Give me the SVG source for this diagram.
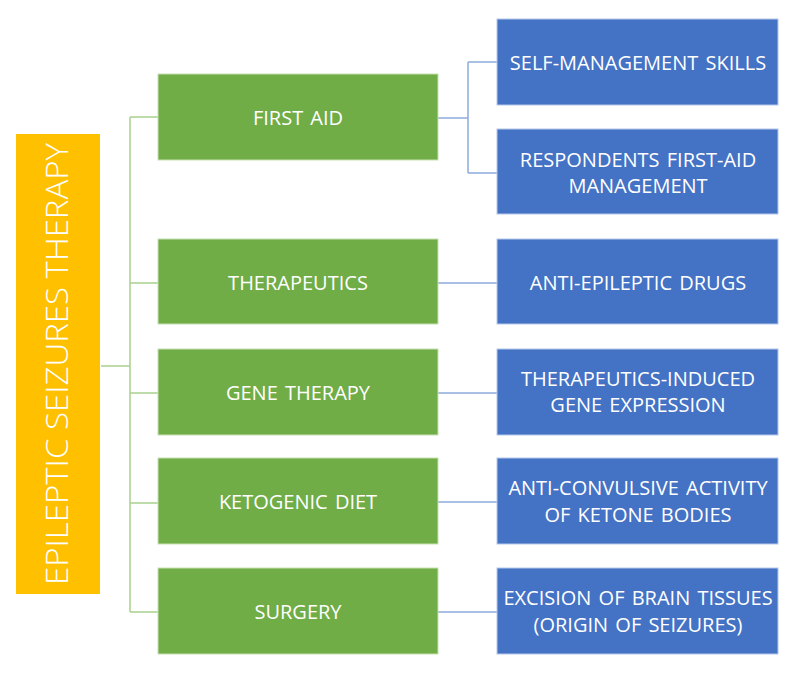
<svg xmlns="http://www.w3.org/2000/svg" width="800" height="680" viewBox="0 0 800 680">
<style>
.g{fill:#70ad47;stroke:#c5e0b4;stroke-width:1}
.b{fill:#4472c4;stroke:#b4c7e7;stroke-width:1}
.t{font-family:"Open Sans","Noto Sans","Liberation Sans",sans-serif;font-size:20px;fill:#ffffff;text-anchor:middle;word-spacing:2px}
.gl{stroke:#a9d18e;stroke-width:1.5;fill:none}
.bl{stroke:#8faadc;stroke-width:1.5;fill:none}
</style>
<rect width="800" height="680" fill="#ffffff"/>
<g id="connectors">
<path class="gl" d="M101 366H130M130 117V612M130 117H158M130 283H158M130 393H158M130 503H158M130 612H158"/>
<path class="bl" d="M438 118H468M468 62V173M468 62H497M468 173H497M438 283H497M438 393H497M438 502H497M438 612H497"/>
</g>
<g id="root">
<rect x="16" y="134" width="84" height="460" fill="#ffc000"/>
<text transform="translate(68,364) rotate(-90)" font-family="'Open Sans','Noto Sans','Liberation Sans',sans-serif" font-weight="300" font-size="31" fill="#ffffff" text-anchor="middle" textLength="442" lengthAdjust="spacingAndGlyphs">EPILEPTIC SEIZURES THERAPY</text>
</g>
<g id="first-aid"><rect class="g" x="158" y="74" width="280" height="86"/><text class="t" x="298" y="125">FIRST AID</text></g>
<g id="therapeutics"><rect class="g" x="158" y="239" width="280" height="85"/><text class="t" x="298" y="290">THERAPEUTICS</text></g>
<g id="gene-therapy"><rect class="g" x="158" y="349" width="280" height="86"/><text class="t" x="298" y="400">GENE THERAPY</text></g>
<g id="ketogenic-diet"><rect class="g" x="158" y="458" width="280" height="86"/><text class="t" x="298" y="509">KETOGENIC DIET</text></g>
<g id="surgery"><rect class="g" x="158" y="568" width="280" height="86"/><text class="t" x="298" y="619">SURGERY</text></g>
<g id="self-management"><rect class="b" x="497" y="19" width="281" height="86"/><text class="t" x="638" y="70">SELF-MANAGEMENT SKILLS</text></g>
<g id="respondents"><rect class="b" x="497" y="129" width="281" height="85"/><text class="t" x="638" y="167">RESPONDENTS FIRST-AID</text><text class="t" x="638" y="193">MANAGEMENT</text></g>
<g id="anti-epileptic"><rect class="b" x="497" y="239" width="281" height="85"/><text class="t" x="638" y="290">ANTI-EPILEPTIC DRUGS</text></g>
<g id="gene-expression"><rect class="b" x="497" y="349" width="281" height="86"/><text class="t" x="638" y="386">THERAPEUTICS-INDUCED</text><text class="t" x="638" y="412">GENE EXPRESSION</text></g>
<g id="ketone-bodies"><rect class="b" x="497" y="458" width="281" height="86"/><text class="t" x="638" y="495">ANTI-CONVULSIVE ACTIVITY</text><text class="t" x="638" y="522">OF KETONE BODIES</text></g>
<g id="excision"><rect class="b" x="497" y="568" width="281" height="86"/><text class="t" x="638" y="605">EXCISION OF BRAIN TISSUES</text><text class="t" x="638" y="632">(ORIGIN OF SEIZURES)</text></g>
</svg>
